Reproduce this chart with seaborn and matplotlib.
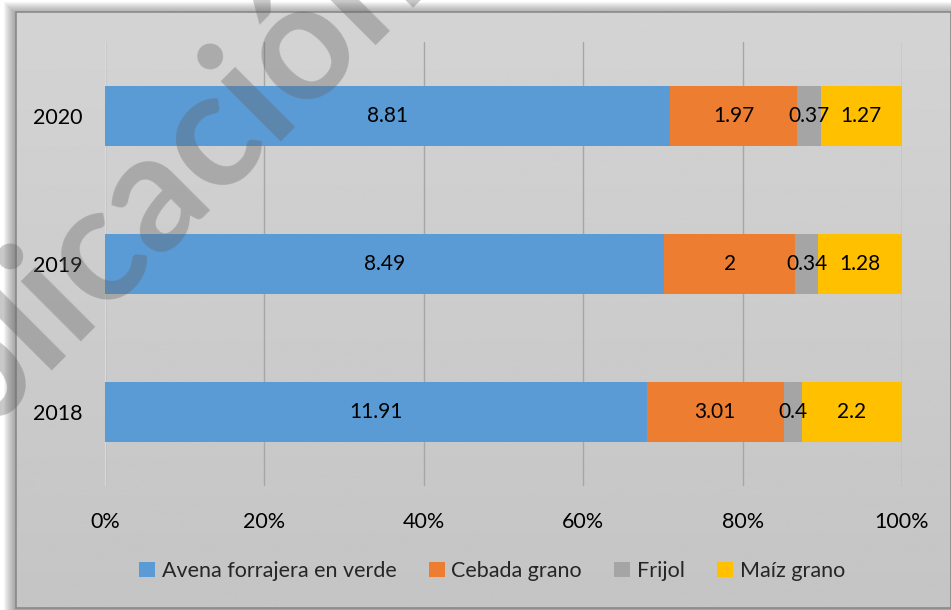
import numpy as np
import pandas as pd
import matplotlib
matplotlib.use("Agg")
import matplotlib.pyplot as plt
import seaborn as sns
from matplotlib.patches import Rectangle, Patch
from matplotlib.ticker import FixedLocator, FuncFormatter

# Production by crop and year (values shown in each segment)
years = ["2020", "2019", "2018"]
crops = ["Avena forrajera en verde", "Cebada grano", "Frijol", "Maíz grano"]
avena = [8.81, 8.49, 11.91]
cebada = [1.97, 2, 3.01]
frijol = [0.37, 0.34, 0.4]
maiz = [1.27, 1.28, 2.2]
colors = ["#5B9BD5", "#ED7D31", "#A5A5A5", "#FFC000"]
xticks = [0, 20, 40, 60, 80, 100]

sns.set_theme(style="white")
plt.rcParams["font.family"] = ["Lato", "DejaVu Sans"]

W, H = 951, 610
fig = plt.figure(figsize=(W / 100, H / 100), dpi=100)
fig.patch.set_facecolor("white")

# Background layer: soft shadow, framed panel with a vertical gradient
bg = fig.add_axes([0, 0, 1, 1], zorder=0)
bg.axis("off")
for i in range(12):
    bg.add_patch(Rectangle((4 + i, 2 + i), W, H, facecolor="#555555",
                           alpha=0.055, edgecolor="none"))
grad = np.linspace(0.83, 0.77, 256).reshape(-1, 1)
bg.imshow(grad, extent=(16, W, 608, 12), cmap="gray", vmin=0, vmax=1,
          aspect="auto", zorder=2)
bg.add_patch(Rectangle((16, 12), W - 16, 596, facecolor="none",
                       edgecolor="#8a8a8a", lw=1.2, zorder=3))
bg.set_xlim(0, W)
bg.set_ylim(H, 0)

df = pd.DataFrame({"year": years, "avena": avena, "cebada": cebada,
                   "frijol": frijol, "maiz": maiz})
vals = df[["avena", "cebada", "frijol", "maiz"]].to_numpy(dtype=float)
pct = vals / vals.sum(axis=1, keepdims=True) * 100
cum = np.cumsum(pct, axis=1)

ax = fig.add_axes([105 / W, 1 - 486 / H, 797 / W, 444 / H], zorder=1)
ax.set_facecolor("none")

# Stacked 100% bars: draw cumulative totals from the outermost inward
for k in range(3, -1, -1):
    d = pd.DataFrame({"year": years, "cum": cum[:, k]})
    sns.barplot(data=d, x="cum", y="year", order=years, orient="h",
                color=colors[k], saturation=1, width=0.405, ax=ax,
                linewidth=0, edgecolor="none", zorder=2)

for i in range(len(years)):
    for k in range(4):
        start = cum[i, k] - pct[i, k]
        ax.text(start + pct[i, k] / 2, i, f"{vals[i, k]:g}", ha="center",
                va="center", fontsize=15, color="black", zorder=4)

ax.set_xlim(0, 100)
ax.set_ylim(2.5, -0.5)
ax.xaxis.set_major_locator(FixedLocator(xticks))
ax.xaxis.set_major_formatter(FuncFormatter(lambda v, p: f"{v:.0f}%"))
ax.grid(axis="x", color="#a6a6a6", lw=1, zorder=0)
ax.grid(axis="y", visible=False)
for s in ax.spines.values():
    s.set_visible(False)
ax.axvline(0, color="#e4e4e4", lw=1.2, zorder=1)
ax.set_xlabel("")
ax.set_ylabel("")
ax.tick_params(axis="x", length=0, pad=19, labelsize=15.5, colors="black")
ax.tick_params(axis="y", length=0, pad=16, labelsize=15.5, colors="black")

handles = [Patch(facecolor=c, edgecolor="none") for c in colors]
fig.legend(handles, crops, loc="center", ncol=4,
           bbox_to_anchor=(492 / W, 1 - 571 / H), frameon=False,
           fontsize=15.5, handlelength=0.75, handleheight=0.75,
           handletextpad=0.3, columnspacing=1.5)

# Diagonal watermark
fig.text(102 / W, 1 - 240 / H, "Publicación", rotation=45, fontsize=118,
         fontweight="bold", color="#606060", alpha=0.35, ha="center",
         va="center", rotation_mode="anchor", zorder=10)

fig.savefig("out.png", dpi=100, facecolor="white")
